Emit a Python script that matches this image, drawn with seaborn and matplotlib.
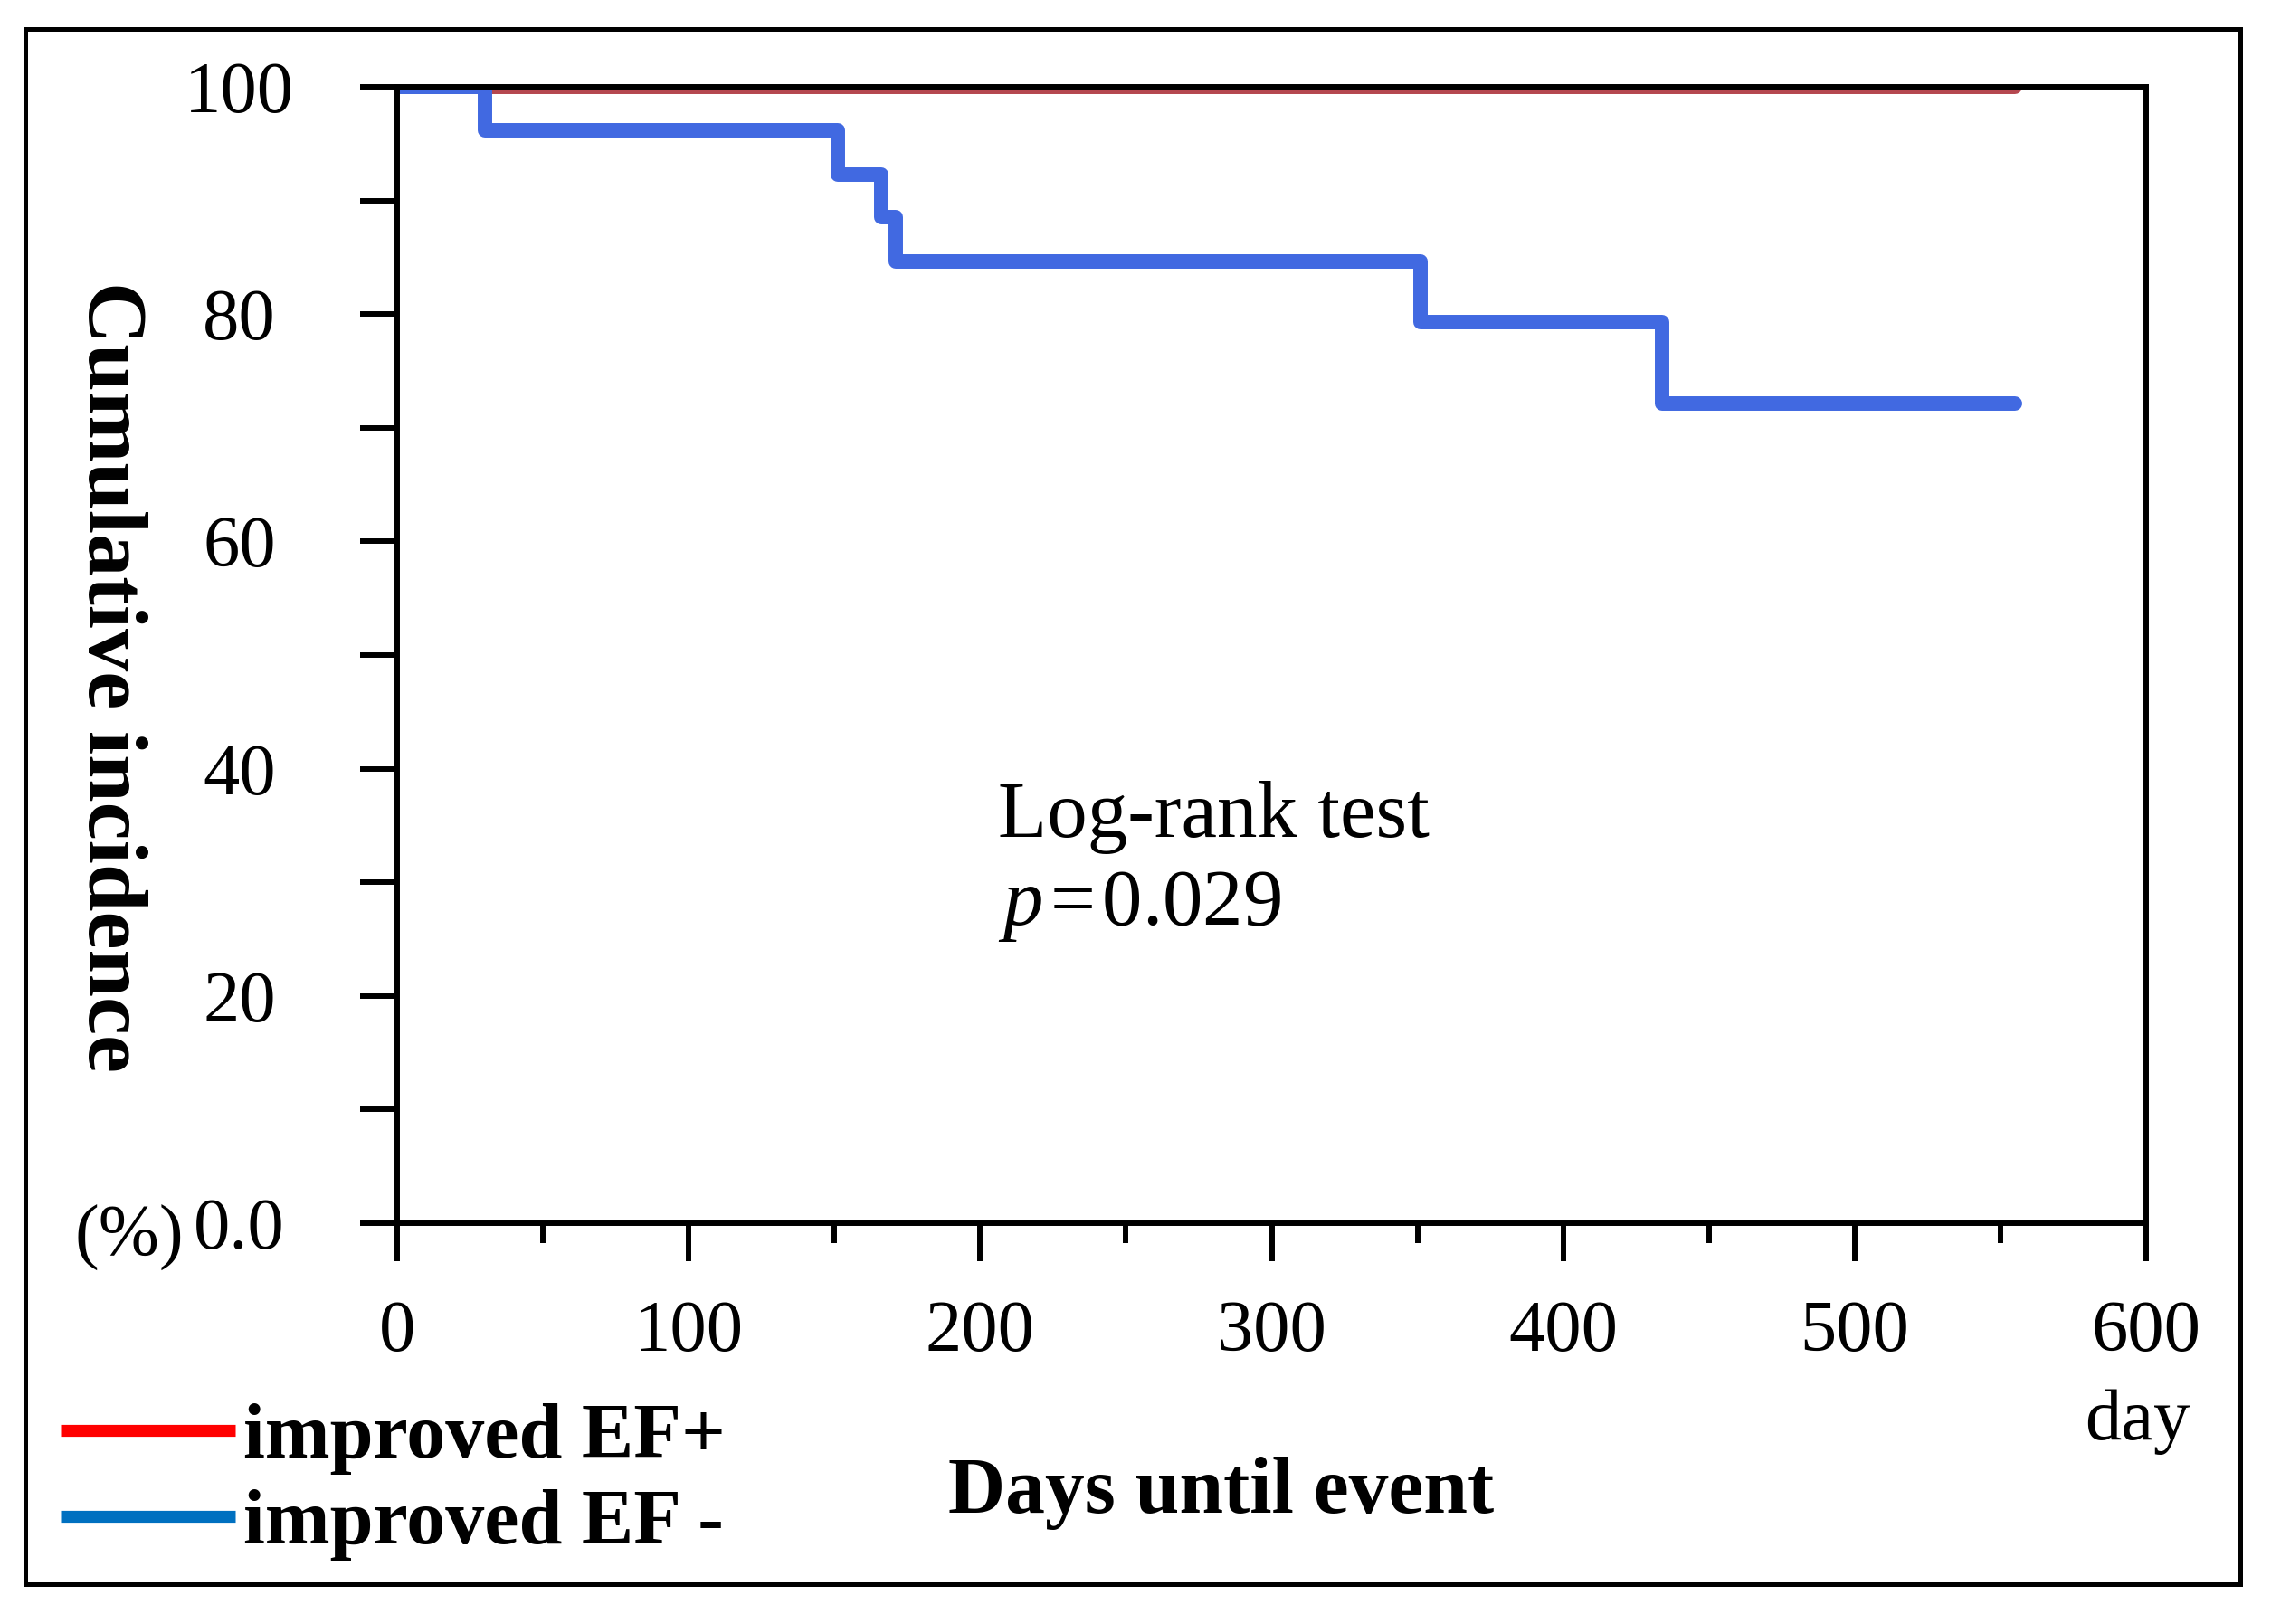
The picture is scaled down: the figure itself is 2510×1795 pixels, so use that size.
import matplotlib
matplotlib.use("Agg")
import matplotlib.pyplot as plt
import matplotlib.patches as mpatches
from matplotlib.lines import Line2D
import pandas as pd
import seaborn as sns

# Kaplan-Meier style step data
days_pos = [0, 555]
pct_pos = [100, 100]
days_neg = [0, 30, 151, 166, 171, 351, 434, 555]
pct_neg = [100, 96.2, 92.3, 88.5, 84.6, 79.3, 72.1, 72.1]

groups = ["improved EF+", "improved EF -"]
line_colors = ["#B5474F", "#4169E1"]
legend_colors = ["#FF0000", "#0070C0"]

x_ticks = [0, 100, 200, 300, 400, 500, 600]
y_ticks = [0, 10, 20, 30, 40, 50, 60, 70, 80, 90, 100]
y_tick_labels = ["0.0", "", "20", "", "40", "", "60", "", "80", "", "100"]

df = pd.concat([
    pd.DataFrame({"day": days_pos, "pct": pct_pos, "group": groups[0]}),
    pd.DataFrame({"day": days_neg, "pct": pct_neg, "group": groups[1]}),
])

sns.set_style("ticks")
plt.rcParams["font.family"] = ["Liberation Serif", "DejaVu Serif"]
plt.rcParams["mathtext.fontset"] = "custom"
plt.rcParams["mathtext.it"] = "Liberation Serif:italic"
plt.rcParams["mathtext.rm"] = "Liberation Serif"
for key in ["text.color", "axes.labelcolor", "xtick.color", "ytick.color", "axes.edgecolor"]:
    plt.rcParams[key] = "black"

fig = plt.figure(figsize=(25.1, 17.95), dpi=100)
ax = fig.add_axes([0.1749, 0.2468, 0.7702, 0.6997])

sns.lineplot(data=df, x="day", y="pct", hue="group", palette=line_colors,
             drawstyle="steps-post", linewidth=11.5, estimator=None,
             legend=False, ax=ax)

ax.set_xlim(0, 600)
ax.set_ylim(0, 100)
for sp in ax.spines.values():
    sp.set_linewidth(4.3)
    sp.set_color("black")
    sp.set_zorder(3)

ax.set_xticks(x_ticks)
ax.set_xticks([50, 150, 250, 350, 450, 550], minor=True)
ax.set_xticklabels([str(t) for t in x_ticks], fontsize=58)
ax.set_yticks(y_ticks)
ax.set_yticklabels(y_tick_labels, fontsize=58, ha="center")
ax.tick_params(axis="x", which="major", direction="out", length=30, width=4.3, pad=31)
ax.tick_params(axis="x", which="minor", direction="out", length=16, width=4.3)
ax.tick_params(axis="y", which="major", direction="out", length=29.5, width=4.3, pad=96)

ax.text(-0.153, -1.3, "(%)", transform=ax.get_yaxis_transform(),
        fontsize=58, ha="center", va="center")
ax.text(597, -0.175, "day", transform=ax.get_xaxis_transform(),
        fontsize=58, ha="center", va="center")

ax.set_ylabel("Cumulative incidence", fontsize=68, fontweight="bold",
              rotation=-90, va="center", ha="center")
ax.yaxis.set_label_coords(-0.1645, 0.481)
ax.set_xlabel("Days until event", fontsize=63, fontweight="bold", va="center")
ax.xaxis.set_label_coords(0.471, -0.238)

ax.text(0.3436, 0.357, "Log-rank test", transform=ax.transAxes,
        fontsize=64, ha="left", va="center")
ax.text(0.3436, 0.279, "$p$\u200a=\u200a0.029", transform=ax.transAxes,
        fontsize=64, ha="left", va="center")

# legend with its own colours, as in the original
handles = [Line2D([], [], color=c, linewidth=9.5, solid_capstyle="butt") for c in legend_colors]
leg = fig.legend(handles, groups, loc="upper left", bbox_to_anchor=(0.0265, 0.136),
                 frameon=False, handlelength=2.25, handletextpad=0.1,
                 labelspacing=0.18, borderpad=0, borderaxespad=0,
                 prop={"size": 62, "weight": "bold"})

# outer frame around the whole figure
fig.add_artist(mpatches.Rectangle((0.0112, 0.0245), 0.9753, 0.9577,
                                  transform=fig.transFigure, fill=False,
                                  edgecolor="black", linewidth=3.6))

fig.savefig("out.png", dpi=100)
plt.close(fig)
